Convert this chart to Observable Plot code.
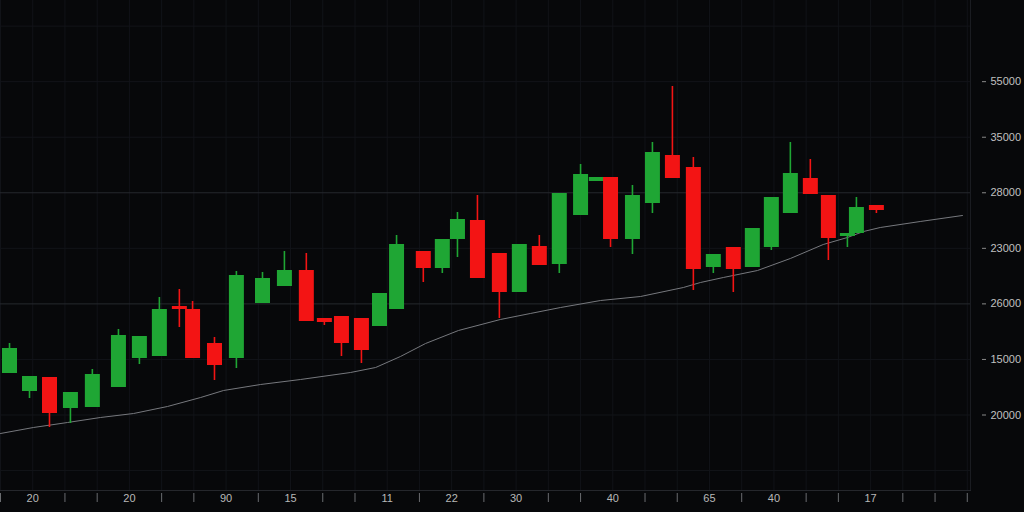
<!DOCTYPE html>
<html><head><meta charset="utf-8">
<script src="https://cdn.jsdelivr.net/npm/d3@7"></script>
<script src="https://cdn.jsdelivr.net/npm/@observablehq/plot@0.6"></script>
<style>
html,body{margin:0;padding:0;background:#07080a;overflow:hidden}
#chart svg{display:block;background:#07080a}
</style>
</head><body><div id="chart"></div>
<script>
// Candle times (in axis slot units) and OHLC values
const times  = [0.28,0.90,1.52,2.17,2.85,3.66,4.31,4.93,5.55,5.96,6.64,7.32,8.13,8.81,9.49,10.05,10.58,11.20,11.76,12.29,13.12,13.71,14.18,14.80,15.48,16.10,16.72,17.34,18.00,18.49,18.93,19.61,20.23,20.85,21.50,22.12,22.74,23.33,23.92,24.51,25.13,25.69,26.28,26.56,27.18];
const opens  = [27470,24230,26750,21170,21350,24950,30170,30530,39530,38990,32870,30170,40070,43130,46010,37370,37730,37370,35930,38990,49430,46370,51590,55010,49070,42050,50330,47090,55910,62030,62750,51590,58070,66710,64550,46550,50150,46550,50150,56270,62570,59510,52130,52670,57710];
const highs  = [32870,26930,26750,24050,28190,35390,34130,41150,42590,40430,33950,45830,45650,49430,49070,37370,37730,37370,41870,52310,49430,51590,56450,59510,49070,50690,52310,59870,65090,62750,62750,61310,69050,79130,66350,48890,50150,53570,59150,69050,65990,59510,52670,59150,57710];
const lows   = [27470,22970,17750,18470,21350,24950,29090,30530,35750,30170,26210,28370,40070,43130,36830,36110,30530,29270,35930,38990,43850,45470,48350,44570,37370,42050,46910,45470,55910,62030,50150,48890,56270,62570,42410,45470,42050,46550,49610,56270,59690,47810,50150,52670,56270];
const closes = [31970,26930,20270,24050,27290,34310,34130,38990,38990,30170,28910,45110,44570,46010,36830,36650,32870,31610,41870,50690,46370,51590,55190,44570,42050,50690,46910,59870,63290,62750,51590,59510,67250,62570,46190,48890,46190,53570,59150,63470,59690,51770,52670,57350,56810];

// Moving-average line
const maTimes  = [0,1.02,2.08,3.10,4.13,5.18,6.21,6.92,8.07,9.31,10.86,11.64,12.41,13.19,14.21,15.51,16.44,17.38,18.62,19.86,21.19,21.72,22.43,23.49,24.51,25.53,26.28,26.78,27.30,28.54,29.85];
const maValues = [16670,17750,18650,19550,20270,21530,23150,24410,25490,26390,27650,28550,30530,32870,35210,37190,38270,39350,40610,41330,42950,43850,44750,46010,48170,50690,51950,53030,53750,54830,55910];

// Axis ticks
const yTickValues = [20000,30000,40000,50000,60000,70000,80000];
const yTickLabels = ["20000","15000","26000","23000","28000","35000","55000"];
const yGridValues = [10000,20000,30000,50000,70000,80000,90000];
const yBrightGrid = [40000,60000];
const xSlots = d3.range(0, 31);
const xLabelSlots = [1,4,7,9,12,14,16,19,22,24,27];
const xLabels = ["20","20","90","15","11","22","30","40","65","40","17"];

const candles = times.map((t, i) => ({t, open: opens[i], high: highs[i], low: lows[i], close: closes[i]}));
const ma = maTimes.map((t, i) => ({t, v: maValues[i]}));
const xLabelMap = new Map(xLabelSlots.map((s, i) => [s, xLabels[i]]));
const xMarkSlots = xSlots.filter(s => !xLabelMap.has(s));
const yLabelMap = new Map(yTickValues.map((v, i) => [v, yTickLabels[i]]));

const GREEN = "#1fa634", RED = "#f31414";
const col = d => d.close >= d.open ? GREEN : RED;

const chart = Plot.plot({
  width: 1024, height: 512,
  marginLeft: 0, marginRight: 54, marginTop: 0, marginBottom: 22,
  style: {background: "#07080a", color: "#c4c4c4", fontFamily: "Liberation Sans, Arial, sans-serif"},
  x: {domain: [0, 30.1]},
  y: {domain: [6410, 94610]},
  marks: [
    Plot.ruleX(xSlots, {stroke: "#111318", strokeWidth: 1}),
    Plot.ruleY(yGridValues, {stroke: "#121419", strokeWidth: 1}),
    Plot.ruleY(yBrightGrid, {stroke: "#26282d", strokeWidth: 1}),
    Plot.frame({anchor: "right", stroke: "#1a1c21"}),
    Plot.frame({anchor: "bottom", stroke: "#25272c"}),
    Plot.line(ma, {x: "t", y: "v", stroke: "#76787d", strokeWidth: 1, curve: "linear"}),
    Plot.ruleX(candles, {x: "t", y1: "low", y2: "high", stroke: col, strokeWidth: 1.6}),
    Plot.ruleX(candles, {x: "t", y1: "open", y2: "close", stroke: col, strokeWidth: 15}),
    Plot.axisX({ticks: xLabelSlots, tickSize: 0, tickPadding: 4, fontSize: 11,
      tickFormat: s => xLabelMap.get(s), fill: "#b8b8b8", label: null}),
    Plot.axisX({ticks: xMarkSlots, tickSize: 9, dy: 3, tickFormat: () => "", stroke: "#6a6c70", label: null}),
    Plot.axisY({anchor: "right", ticks: yTickValues, tickSize: 4, tickPadding: 5, dx: 11,
      fontSize: 11, stroke: "#8a8a8a", fill: "#c0c0c0",
      tickFormat: v => yLabelMap.get(v), label: null})
  ]
});
document.getElementById("chart").appendChild(chart);
</script>
</body></html>
